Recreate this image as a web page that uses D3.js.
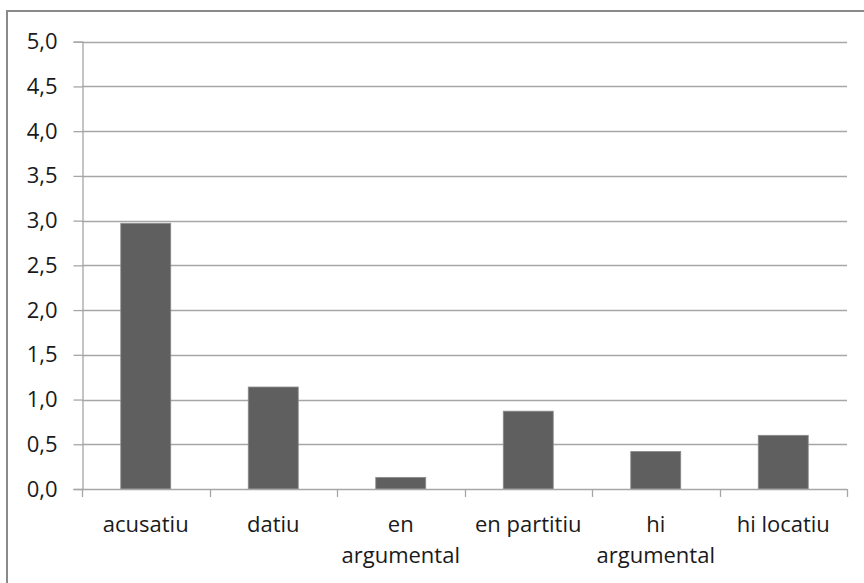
<!DOCTYPE html>
<html>
<head>
<meta charset="utf-8">
<script src="https://cdn.jsdelivr.net/npm/d3@7"></script>
<style>
  html, body { margin: 0; padding: 0; background: #fff; }
  svg { display: block; }
  text { font-family: "Open Sans", Lato, sans-serif; fill: #1a1a1a; }
</style>
</head>
<body>
<svg id="chart" width="864" height="583"></svg>
<script>
// Categories (multi-line labels split on "\n") and their values
const categories = ["acusatiu", "datiu", "en\nargumental", "en partitiu", "hi\nargumental", "hi locatiu"];
const values = [2.97, 1.14, 0.13, 0.87, 0.42, 0.60];
const yTicks = [0, 0.5, 1, 1.5, 2, 2.5, 3, 3.5, 4, 4.5, 5];

const svg = d3.select("#chart");
const plot = { left: 82, right: 847, top: 41.7, bottom: 489 };
const FONT = 22;

// chart frame
svg.append("rect")
  .attr("x", 7).attr("y", 11)
  .attr("width", 1000).attr("height", 1000)
  .attr("fill", "none").attr("stroke", "#8a8a8a").attr("stroke-width", 2);

const x = d3.scaleBand()
  .domain(categories)
  .range([plot.left, plot.right])
  .paddingInner(0.608).paddingOuter(0.304);

const y = d3.scaleLinear().domain([0, 5]).range([plot.bottom, plot.top]);

// horizontal gridlines
svg.append("g").selectAll("line").data(yTicks.filter(d => d > 0)).join("line")
  .attr("x1", plot.left).attr("x2", plot.right)
  .attr("y1", d => Math.round(y(d)) + 0.5).attr("y2", d => Math.round(y(d)) + 0.5)
  .attr("stroke", "#a6a6a6").attr("stroke-width", 1.3);

// bars
svg.append("g").selectAll("rect").data(values).join("rect")
  .attr("x", (d, i) => x(categories[i]))
  .attr("width", x.bandwidth())
  .attr("y", d => y(d))
  .attr("height", d => y(0) - y(d))
  .attr("fill", "#5f5f5f")
  .attr("stroke", "#8c8c8c").attr("stroke-width", 0.8);

// y axis
const yAxis = d3.axisLeft(y)
  .tickValues(yTicks)
  .tickFormat(d => d3.format(".1f")(d).replace(".", ","))
  .tickSize(9).tickPadding(16);
const gy = svg.append("g").attr("transform", `translate(${plot.left + 0.5},0)`).call(yAxis);
gy.select(".domain").attr("stroke", "#a6a6a6").attr("stroke-width", 1.3);
gy.selectAll(".tick line").attr("stroke", "#a6a6a6").attr("stroke-width", 1.3);
gy.selectAll(".tick text").attr("font-size", FONT).attr("fill", "#1a1a1a")
  .attr("font-family", "'Open Sans', Lato, sans-serif");

// x axis baseline and category boundary ticks
const step = x.step();
const bounds = d3.range(categories.length + 1).map(i => plot.left + i * step);
svg.append("line")
  .attr("x1", plot.left).attr("x2", plot.right)
  .attr("y1", plot.bottom + 0.5).attr("y2", plot.bottom + 0.5)
  .attr("stroke", "#a6a6a6").attr("stroke-width", 1.3);
svg.append("g").selectAll("line").data(bounds).join("line")
  .attr("x1", d => Math.round(d) + 0.5).attr("x2", d => Math.round(d) + 0.5)
  .attr("y1", plot.bottom).attr("y2", plot.bottom + 8)
  .attr("stroke", "#a6a6a6").attr("stroke-width", 1.3);

// category labels
const lbl = svg.append("g").selectAll("text").data(categories).join("text")
  .attr("text-anchor", "middle")
  .attr("font-size", FONT)
  .attr("x", d => x(d) + x.bandwidth() / 2)
  .attr("y", 532);
lbl.each(function(d) {
  const t = d3.select(this);
  d.split("\n").forEach((line, i) => {
    t.append("tspan")
      .attr("x", x(d) + x.bandwidth() / 2)
      .attr("dy", i === 0 ? 0 : 31)
      .text(line);
  });
});
</script>
</body>
</html>
